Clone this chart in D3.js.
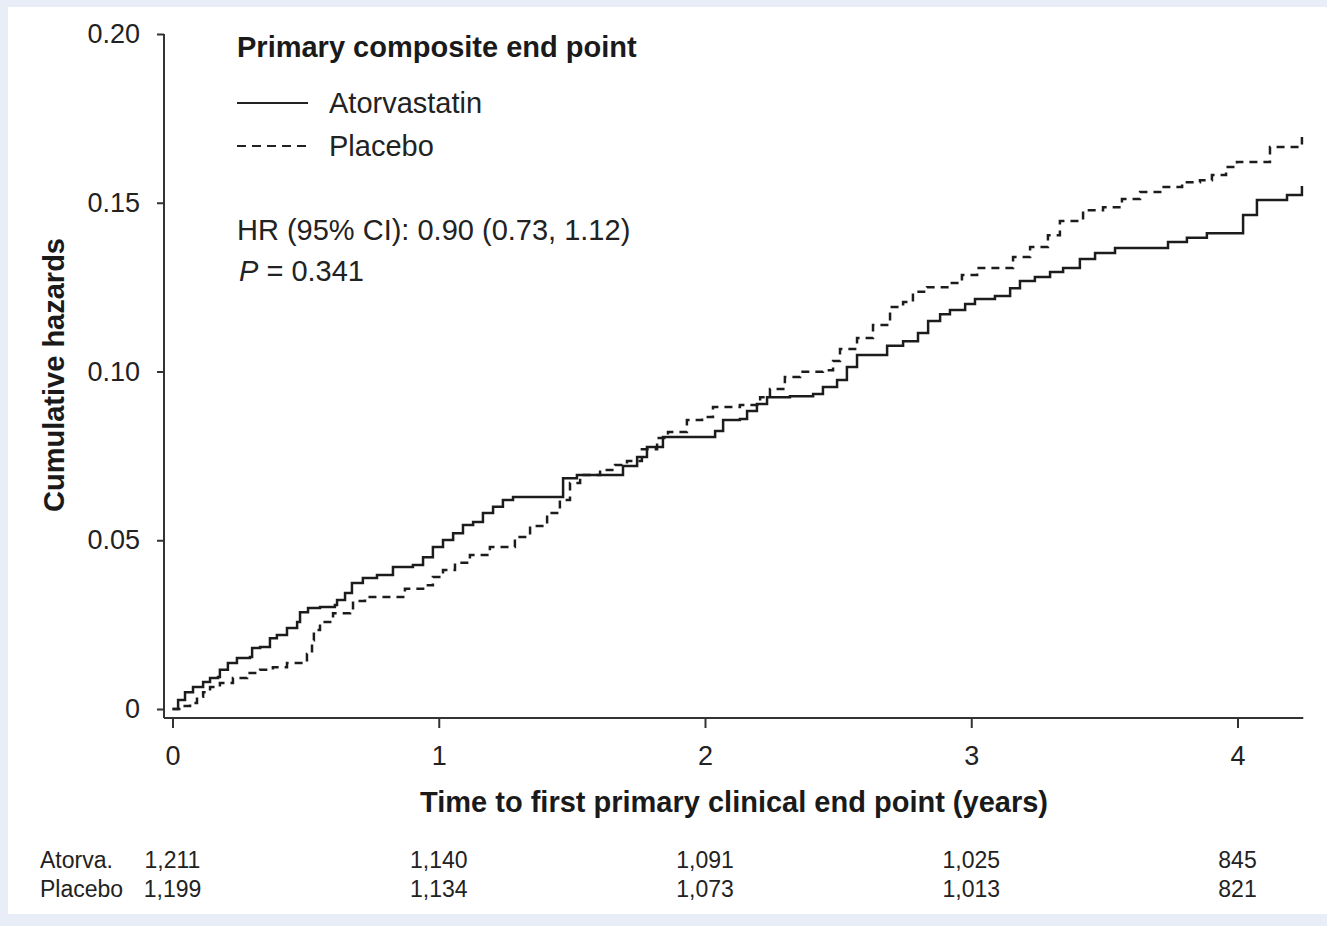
<!DOCTYPE html>
<html>
<head>
  <meta charset="utf-8">
  <title>Cumulative hazards</title>
  <style>
    body { margin: 0; background: #e9edf8; }
    svg  { display: block; font-family: "Liberation Sans", Arial, sans-serif; }
    .axis text { font-size: 27px; fill: #222; font-family: "Liberation Sans", Arial, sans-serif; }
    .axis line { stroke: #333; stroke-width: 2; }
  </style>
</head>
<body>
  <script src="https://d3js.org/d3.v7.min.js"></script>

  <svg width="1327" height="926"></svg>

  <script>
    // step points (years, cumulative hazard)
    var atorvaT = [0, 0.021, 0.047, 0.077, 0.115, 0.141, 0.171, 0.178, 0.208, 0.242, 0.291, 0.299, 0.329, 0.366, 0.392,
      0.430, 0.468, 0.479, 0.509, 0.554, 0.610, 0.618, 0.648, 0.674, 0.715, 0.768, 0.828, 0.903, 0.941, 0.978,
      1.016, 1.054, 1.091, 1.129, 1.166, 1.204, 1.241, 1.279, 1.429, 1.467, 1.519, 1.654, 1.692, 1.745, 1.782,
      1.842, 2.000, 2.038, 2.068, 2.131, 2.158, 2.195, 2.233, 2.319, 2.406, 2.443, 2.496, 2.533, 2.571, 2.657,
      2.684, 2.744, 2.800, 2.838, 2.883, 2.920, 2.977, 3.014, 3.089, 3.146, 3.183, 3.239, 3.296, 3.345, 3.408,
      3.465, 3.540, 3.735, 3.739, 3.810, 3.885, 3.998, 4.021, 4.073, 4.171, 4.186, 4.223, 4.242];
    var atorvaH = [0, 0.0027, 0.0050, 0.0065, 0.0080, 0.0092, 0.0095, 0.0116, 0.0136, 0.0151, 0.0154, 0.0181, 0.0184, 0.0210, 0.0219,
      0.0240, 0.0258, 0.0287, 0.0299, 0.0302, 0.0308, 0.0323, 0.0344, 0.0373, 0.0388, 0.0397, 0.0421, 0.0427, 0.0450, 0.0480,
      0.0501, 0.0521, 0.0545, 0.0554, 0.0581, 0.0599, 0.0619, 0.0628, 0.0628, 0.0684, 0.0693, 0.0693, 0.0720, 0.0747, 0.0776,
      0.0806, 0.0806, 0.0824, 0.0856, 0.0859, 0.0883, 0.0904, 0.0924, 0.0927, 0.0933, 0.0954, 0.0975, 0.1013, 0.1049, 0.1049,
      0.1076, 0.1090, 0.1114, 0.1150, 0.1170, 0.1182, 0.1200, 0.1215, 0.1224, 0.1247, 0.1268, 0.1280, 0.1295, 0.1307, 0.1333,
      0.1351, 0.1366, 0.1366, 0.1384, 0.1396, 0.1410, 0.1410, 0.1464, 0.1508, 0.1508, 0.1523, 0.1523, 0.1550];

    var placeboT = [0, 0.039, 0.066, 0.092, 0.115, 0.141, 0.178, 0.227, 0.280, 0.329, 0.377, 0.430, 0.479, 0.505, 0.524,
      0.531, 0.554, 0.603, 0.667, 0.678, 0.723, 0.828, 0.873, 0.948, 0.978, 1.016, 1.061, 1.117, 1.192, 1.268,
      1.286, 1.343, 1.407, 1.455, 1.493, 1.531, 1.606, 1.662, 1.707, 1.763, 1.820, 1.861, 1.932, 1.989, 2.030,
      2.131, 2.207, 2.244, 2.300, 2.357, 2.443, 2.481, 2.507, 2.571, 2.631, 2.695, 2.744, 2.781, 2.834, 2.920,
      2.965, 3.022, 3.119, 3.157, 3.221, 3.288, 3.333, 3.401, 3.420, 3.495, 3.566, 3.634, 3.716, 3.792, 3.859,
      3.904, 3.934, 3.957, 3.998, 4.092, 4.122, 4.216, 4.242];
    var placeboH = [0, 0.0009, 0.0018, 0.0036, 0.0050, 0.0065, 0.0077, 0.0092, 0.0107, 0.0116, 0.0124, 0.0136, 0.0136, 0.0163, 0.0204,
      0.0234, 0.0258, 0.0284, 0.0287, 0.0320, 0.0332, 0.0332, 0.0356, 0.0367, 0.0391, 0.0412, 0.0433, 0.0456, 0.0480, 0.0480,
      0.0510, 0.0542, 0.0581, 0.0619, 0.0670, 0.0693, 0.0708, 0.0723, 0.0735, 0.0770, 0.0803, 0.0821, 0.0856, 0.0865, 0.0895,
      0.0901, 0.0924, 0.0948, 0.0984, 0.0999, 0.1004, 0.1031, 0.1067, 0.1099, 0.1138, 0.1191, 0.1206, 0.1236, 0.1250, 0.1262,
      0.1286, 0.1307, 0.1307, 0.1339, 0.1369, 0.1404, 0.1446, 0.1446, 0.1478, 0.1487, 0.1511, 0.1532, 0.1547, 0.1561, 0.1567,
      0.1582, 0.1582, 0.1606, 0.1621, 0.1621, 0.1665, 0.1665, 0.1695];

    var yTicks = [0, 0.05, 0.10, 0.15, 0.20];
    var xTicks = [0, 1, 2, 3, 4];

    // numbers at risk
    var riskTimes   = [0, 1, 2, 3, 4];
    var atorvaRisk  = ["1,211", "1,140", "1,091", "1,025", "845"];
    var placeboRisk = ["1,199", "1,134", "1,073", "1,013", "821"];

    var svg = d3.select("svg");

    // white panel over the lavender page
    svg.append("rect")
      .attr("x", 8).attr("y", 7)
      .attr("width", 1319).attr("height", 907)
      .attr("fill", "#fff");

    var x = d3.scaleLinear().domain([0, 4]).range([172.5, 1237.5]);
    var y = d3.scaleLinear().domain([0, 0.2]).range([709, 34]);
    var axisY = 718, axisX = 164;

    // y axis
    var gy = svg.append("g").attr("class", "axis")
      .attr("transform", "translate(" + axisX + ",0)")
      .call(d3.axisLeft(y).tickValues(yTicks).tickSize(7).tickPadding(17)
        .tickFormat(function(d) { return d === 0 ? "0" : d3.format(".2f")(d); }));
    gy.select(".domain").remove();
    svg.append("line")
      .attr("x1", axisX).attr("x2", axisX)
      .attr("y1", y(0.2)).attr("y2", axisY)
      .attr("stroke", "#333").attr("stroke-width", 2);

    // x axis
    var gx = svg.append("g").attr("class", "axis")
      .attr("transform", "translate(0," + axisY + ")")
      .call(d3.axisBottom(x).tickValues(xTicks).tickSize(10).tickPadding(18)
        .tickFormat(d3.format("d")));
    gx.select(".domain").remove();
    svg.append("line")
      .attr("x1", axisX).attr("x2", x(4.247))
      .attr("y1", axisY).attr("y2", axisY)
      .attr("stroke", "#333").attr("stroke-width", 2);

    // axis titles
    svg.append("text")
      .attr("x", 734).attr("y", 812)
      .attr("text-anchor", "middle")
      .style("font-size", "29px").style("font-weight", "bold").style("fill", "#1a1a1a")
      .text("Time to first primary clinical end point (years)");

    svg.append("text")
      .attr("transform", "translate(64,375) rotate(-90)")
      .attr("text-anchor", "middle")
      .style("font-size", "29px").style("font-weight", "bold").style("fill", "#1a1a1a")
      .text("Cumulative hazards");

    // curves
    var line = d3.line()
      .x(function(d) { return x(d[0]); })
      .y(function(d) { return y(d[1]); })
      .curve(d3.curveStepAfter);

    svg.append("path")
      .datum(atorvaT.map(function(t, i) { return [t, atorvaH[i]]; }))
      .attr("d", line)
      .attr("fill", "none")
      .attr("stroke", "#1c1c1c")
      .attr("stroke-width", 2.5);

    svg.append("path")
      .datum(placeboT.map(function(t, i) { return [t, placeboH[i]]; }))
      .attr("d", line)
      .attr("fill", "none")
      .attr("stroke", "#1c1c1c")
      .attr("stroke-width", 2.5)
      .attr("stroke-dasharray", "8,6");

    // legend + stats
    var txt = "#222";
    svg.append("text")
      .attr("x", 237).attr("y", 57)
      .style("font-size", "29px").style("font-weight", "bold").style("fill", "#1a1a1a")
      .text("Primary composite end point");

    svg.append("line")
      .attr("x1", 237).attr("x2", 308).attr("y1", 103).attr("y2", 103)
      .attr("stroke", "#222").attr("stroke-width", 2);
    svg.append("text")
      .attr("x", 329).attr("y", 113)
      .style("font-size", "29px").style("fill", txt)
      .text("Atorvastatin");

    svg.append("line")
      .attr("x1", 237).attr("x2", 308).attr("y1", 146).attr("y2", 146)
      .attr("stroke", "#222").attr("stroke-width", 2)
      .attr("stroke-dasharray", "9,6");
    svg.append("text")
      .attr("x", 329).attr("y", 156)
      .style("font-size", "29px").style("fill", txt)
      .text("Placebo");

    svg.append("text")
      .attr("x", 237).attr("y", 240)
      .style("font-size", "29px").style("fill", txt)
      .text("HR (95% CI): 0.90 (0.73, 1.12)");

    var p = svg.append("text")
      .attr("x", 239).attr("y", 281)
      .style("font-size", "29px").style("fill", txt);
    p.append("tspan").style("font-style", "italic").text("P");
    p.append("tspan").text(" = 0.341");

    // numbers at risk table
    svg.append("text")
      .attr("x", 40).attr("y", 868)
      .style("font-size", "23px").style("fill", txt)
      .text("Atorva.");
    svg.append("text")
      .attr("x", 40).attr("y", 897)
      .style("font-size", "23px").style("fill", txt)
      .text("Placebo");

    svg.selectAll(".riskA")
      .data(riskTimes)
      .enter().append("text")
      .attr("class", "riskA")
      .attr("x", function(d) { return x(d); })
      .attr("y", 868)
      .attr("text-anchor", "middle")
      .style("font-size", "23px").style("fill", txt)
      .text(function(d, i) { return atorvaRisk[i]; });

    svg.selectAll(".riskP")
      .data(riskTimes)
      .enter().append("text")
      .attr("class", "riskP")
      .attr("x", function(d) { return x(d); })
      .attr("y", 897)
      .attr("text-anchor", "middle")
      .style("font-size", "23px").style("fill", txt)
      .text(function(d, i) { return placeboRisk[i]; });
  </script>
</body>
</html>
